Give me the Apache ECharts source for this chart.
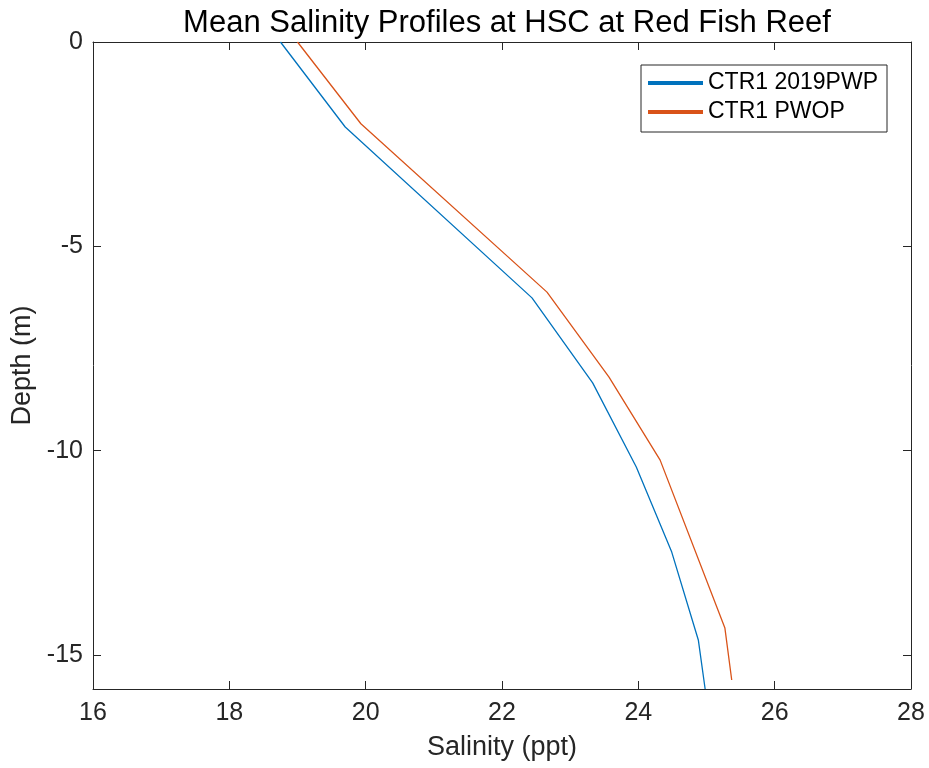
<!DOCTYPE html>
<html>
<head>
<meta charset="utf-8">
<script src="https://cdn.jsdelivr.net/npm/echarts@6/dist/echarts.min.js"></script>
<style>
html,body{margin:0;padding:0;background:#fff;}
#chart{width:929px;height:768px;}
</style>
</head>
<body>
<div id="chart"></div>
<script>
// Data: [salinity (ppt), depth (m)]
const seriesNames = ['CTR1 2019PWP', 'CTR1 PWOP'];
const ctr1_2019pwp_salinity = [18.75, 19.70, 22.44, 23.33, 23.97, 24.49, 24.88, 24.98];
const ctr1_2019pwp_depth    = [0, -2.08, -6.26, -8.34, -10.40, -12.48, -14.63, -15.83];
const ctr1_pwop_salinity = [19.00, 19.93, 22.66, 23.57, 24.32, 25.27, 25.37];
const ctr1_pwop_depth    = [0, -2.00, -6.12, -8.20, -10.23, -14.34, -15.61];
const xTicks = [16, 18, 20, 22, 24, 26, 28];
const yTicks = [0, -5, -10, -15];
const xMin = 16, xMax = 28, xStep = 2;
const yMin = -15.83, yMax = 0;

const colors = ['#0072BD', '#D95319'];
const axisColor = '#262626';
const fontFamily = '"Liberation Sans", Arial, Helvetica, sans-serif';

function pairs(xs, ys) { return xs.map((x, i) => [x, ys[i]]); }

const chart = echarts.init(document.getElementById('chart'), null, {renderer: 'canvas'});

const baseAxisLine = {show: true, onZero: false, lineStyle: {color: axisColor, width: 1}};
const baseTick = {show: true, inside: true, length: 8, lineStyle: {color: axisColor, width: 1}};

chart.setOption({
  animation: false,
  backgroundColor: '#ffffff',
  textStyle: {fontFamily: fontFamily},
  title: {
    text: 'Mean Salinity Profiles at HSC at Red Fish Reef',
    left: 502,
    textAlign: 'center',
    top: 3,
    textStyle: {fontSize: 31, fontWeight: 'normal', color: '#000', fontFamily: fontFamily}
  },
  grid: {left: 93, right: 18, top: 42, bottom: 79, containLabel: false},
  legend: {
    data: seriesNames.map(n => ({name: n, icon: 'rect'})),
    orient: 'vertical',
    left: 641,
    top: 65,
    itemWidth: 55,
    itemHeight: 4,
    itemGap: 5,
    padding: [6, 9, 8, 7],
    borderColor: axisColor,
    borderWidth: 1,
    backgroundColor: '#fff',
    textStyle: {fontSize: 23, lineHeight: 24, color: '#000', fontFamily: fontFamily}
  },
  xAxis: [
    {
      type: 'value', min: xMin, max: xMax, interval: xStep, position: 'bottom',
      axisLine: baseAxisLine, axisTick: baseTick, splitLine: {show: false},
      axisLabel: {fontSize: 25, color: axisColor, margin: 12, fontFamily: fontFamily,
        formatter: v => (xTicks.indexOf(v) >= 0 ? String(v) : '')},
      name: 'Salinity (ppt)', nameLocation: 'middle', nameGap: 45,
      nameTextStyle: {fontSize: 27, color: axisColor, fontFamily: fontFamily}
    },
    {
      type: 'value', min: xMin, max: xMax, interval: xStep, position: 'top',
      axisLine: baseAxisLine, axisTick: baseTick, splitLine: {show: false},
      axisLabel: {show: false}
    }
  ],
  yAxis: [
    {
      type: 'value', min: yMin, max: yMax, splitNumber: 3, position: 'left',
      axisLine: baseAxisLine, axisTick: baseTick, splitLine: {show: false},
      axisLabel: {fontSize: 25, color: axisColor, margin: 10, fontFamily: fontFamily,
        formatter: v => (yTicks.indexOf(Math.round(v * 100) / 100) >= 0 ? String(v) : '')},
      name: 'Depth (m)', nameLocation: 'middle', nameGap: 53, nameRotate: 90,
      nameTextStyle: {fontSize: 27, color: axisColor, fontFamily: fontFamily}
    },
    {
      type: 'value', min: yMin, max: yMax, splitNumber: 3, position: 'right',
      axisLine: baseAxisLine, axisTick: baseTick, splitLine: {show: false},
      axisLabel: {show: false}
    }
  ],
  series: [
    {
      name: seriesNames[0], type: 'line', xAxisIndex: 0, yAxisIndex: 0,
      data: pairs(ctr1_2019pwp_salinity, ctr1_2019pwp_depth),
      showSymbol: false, symbol: 'none', clip: true,
      lineStyle: {color: colors[0], width: 1.3}, itemStyle: {color: colors[0]}
    },
    {
      name: seriesNames[1], type: 'line', xAxisIndex: 0, yAxisIndex: 0,
      data: pairs(ctr1_pwop_salinity, ctr1_pwop_depth),
      showSymbol: false, symbol: 'none', clip: true,
      lineStyle: {color: colors[1], width: 1.3}, itemStyle: {color: colors[1]}
    }
  ]
});
</script>
</body>
</html>
